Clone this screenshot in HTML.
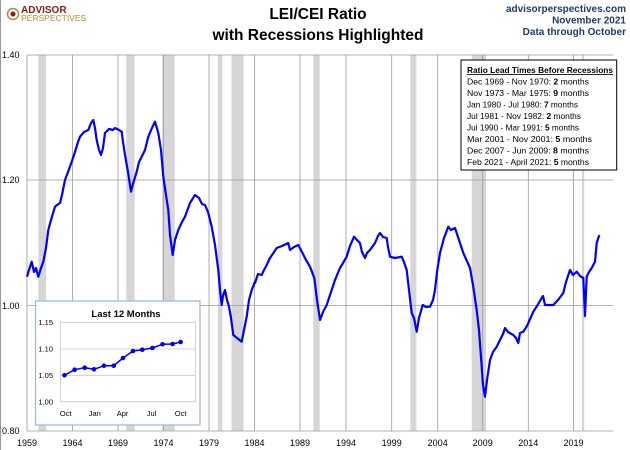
<!DOCTYPE html>
<html><head><meta charset="utf-8"><style>
html,body{margin:0;padding:0;background:#fff}
svg{display:block;font-family:"Liberation Sans",sans-serif}
</style></head><body>
<svg width="630" height="450" viewBox="0 0 630 450" xmlns="http://www.w3.org/2000/svg">
<rect x="0" y="0" width="630" height="450" fill="#fff"/>
<line x1="0.5" y1="0" x2="0.5" y2="450" stroke="#999"/>
<circle cx="13" cy="14" r="5.5" fill="none" stroke="#b5893f" stroke-width="1.5"/>
<circle cx="13" cy="14" r="2.5" fill="#8b1a1a"/>
<text x="21" y="13" font-size="10" font-weight="bold" fill="#8b1a1a">ADVISOR</text>
<text x="21" y="21" font-size="8.5" fill="#b5893f">PERSPECTIVES</text>
<text x="318" y="19" font-size="15.5" font-weight="bold" text-anchor="middle" fill="#000">LEI/CEI Ratio</text>
<text x="318" y="40" font-size="15.5" font-weight="bold" text-anchor="middle" fill="#000">with Recessions Highlighted</text>
<g font-size="10" font-weight="bold" fill="#1f3a6e" text-anchor="end">
<text x="626" y="12">advisorperspectives.com</text>
<text x="626" y="23.5">November 2021</text>
<text x="626" y="35">Data through October</text>
</g>
<g fill="#d6d6d6">
<rect x="38.4" y="55" width="7.7" height="376"/>
<rect x="126.3" y="55" width="8.3" height="376"/>
<rect x="162.2" y="55" width="12.5" height="376"/>
<rect x="217.9" y="55" width="4.5" height="376"/>
<rect x="231.5" y="55" width="12.1" height="376"/>
<rect x="313.3" y="55" width="6.4" height="376"/>
<rect x="410.3" y="55" width="6.1" height="376"/>
<rect x="471.7" y="55" width="14.3" height="376"/>
<rect x="582" y="55" width="2.2" height="376"/>
</g>
<g stroke="#9a9a9a" stroke-width="0.8">
<line x1="27" y1="55" x2="613" y2="55"/>
<line x1="27" y1="180" x2="613" y2="180"/>
<line x1="27" y1="305.5" x2="613" y2="305.5"/>
<line x1="27" y1="431" x2="613" y2="431"/>
<line x1="27" y1="55" x2="27" y2="431"/>
<line x1="72.5" y1="55" x2="72.5" y2="431"/>
<line x1="118" y1="55" x2="118" y2="431"/>
<line x1="163.5" y1="55" x2="163.5" y2="431"/>
<line x1="209" y1="55" x2="209" y2="431"/>
<line x1="254.5" y1="55" x2="254.5" y2="431"/>
<line x1="300" y1="55" x2="300" y2="431"/>
<line x1="346" y1="55" x2="346" y2="431"/>
<line x1="391.7" y1="55" x2="391.7" y2="431"/>
<line x1="437.7" y1="55" x2="437.7" y2="431"/>
<line x1="482.7" y1="55" x2="482.7" y2="431"/>
<line x1="528.3" y1="55" x2="528.3" y2="431"/>
<line x1="573.5" y1="55" x2="573.5" y2="431"/>
</g>
<g font-size="9" fill="#000">
<text x="2" y="58">1.40</text>
<text x="2" y="183">1.20</text>
<text x="2" y="309">1.00</text>
<text x="2" y="434">0.80</text>
</g>
<g font-size="9" fill="#000" text-anchor="middle">
<text x="27" y="446">1959</text><text x="72.5" y="446">1964</text><text x="118" y="446">1969</text>
<text x="163.5" y="446">1974</text><text x="209" y="446">1979</text><text x="254.5" y="446">1984</text>
<text x="300" y="446">1989</text><text x="346" y="446">1994</text><text x="391.7" y="446">1999</text>
<text x="437.7" y="446">2004</text><text x="482.7" y="446">2009</text><text x="528.3" y="446">2014</text>
<text x="573.5" y="446">2019</text>
</g>
<polyline fill="none" stroke="#0000ff" stroke-width="2.2" stroke-linejoin="round" points="
27,276.7 29,270 31.7,261.7 34,272 36,268 38.3,276.7 41,268 43.3,261.7 46,248 48.3,230 51,220 55,206.7 57,205 60,203 62,195 65,180 68,172 71.7,161.7 75,152 78,142 80,136.7 84,132 88.3,130 91,123 93.3,120 95,128 96.7,140 99,150 101,155 103,148 105,133 109,129 113,130 115,128 119,130 121.7,131.7 123,142 125,155 128,172 131,191.7 133,184 136.7,171.7 139,162 141.7,156.7 145,150 148.3,136.7 152,128 155,121.7 158.3,133 161,150 163.3,176.7 166,195 168.3,210 170,235 172.7,255 175,240 178.3,230 182,222 185,216.7 190,203 195,195 199,198 202,204 205,205 208,212 211.7,226.7 215,245 218.3,270 220,290 221.7,305 223,296 225,290 227,300 229,306.7 231,318 233.3,335 237,338 241.7,341.7 244,330 246.7,316.7 249,300 251.7,290 255,281.7 255,283 258,274 261.7,275 264,270 266.7,265 270,258 276.7,248 282,246 288.3,243 290,250 294,247 298.3,245 302,252 306,260 310,266.7 314.3,278 317,300 320,320 323,312 326.7,305 329,298 331.7,290 335,280 340,268 343,263 346.7,256.7 350,246 354,236.7 357,240 360,243 362,252 365,258 367,253 370,250 375,243 378,236 380,233 383,237 386.7,238 388,247 390,256.7 395,258 401.7,256.7 404,262 406.7,270 409,290 411.7,313 414,318 416.7,331.7 419,318 422.7,305 426,307 430,306.7 433,300 435,290 437,272 440,253 444,238 448.3,226.7 451,230 455,228 459,240 463.3,253 466,259 470,268 473,285 476.7,310 479,330 481.7,366.7 483,385 485,396.7 487,380 490,360 493,352 496.7,346.7 500,340 503,334 505,328 508,332 513.3,335 516,338 518.3,343 520,333 523.3,331.7 527,326 533.3,311.7 537,306 541.7,298 543,296 545,305 549,305 553.3,305 558,300 563.3,293 566,282 570,270 573,275 576.7,271.7 580,276 583.3,278 585,316 586.7,276.7 589,272 591.7,268 595,261.7 596.7,243 599.3,235"/>
<rect x="35.5" y="301" width="164.5" height="124" fill="#fff" stroke="#9fb6d6" stroke-width="1.2"/>
<text x="126" y="317" font-size="9.5" font-weight="bold" text-anchor="middle">Last 12 Months</text>
<g stroke="#c8c8c8" stroke-width="0.8">
<line x1="60.5" y1="322.3" x2="195.5" y2="322.3"/>
<line x1="60.5" y1="349" x2="195.5" y2="349"/>
<line x1="60.5" y1="375.3" x2="195.5" y2="375.3"/>
<line x1="60.5" y1="401.7" x2="195.5" y2="401.7"/>
<line x1="60.5" y1="322.3" x2="60.5" y2="401.7"/>
<line x1="195.5" y1="322.3" x2="195.5" y2="401.7"/>
</g>
<g font-size="7.5" text-anchor="end">
<text x="53" y="325">1.15</text><text x="53" y="351.5">1.10</text><text x="53" y="378">1.05</text><text x="53" y="404.5">1.00</text>
</g>
<g font-size="7.5" text-anchor="middle">
<text x="65.7" y="416">Oct</text><text x="94.8" y="416">Jan</text><text x="122.6" y="416">Apr</text><text x="151.6" y="416">Jul</text><text x="180.6" y="416">Oct</text>
</g>
<g fill="#0000ff">
<polyline fill="none" stroke="#0000ff" stroke-width="1.5" points="64.5,375.3 74.6,369.7 84.7,367.7 94,369.3 104,365.7 113.7,365.7 123,358 133,351 142.3,349.7 152.4,348 162.5,344.3 172.6,344 180.6,342"/>
<circle cx="64.5" cy="375.3" r="2.3"/><circle cx="74.6" cy="369.7" r="2.3"/><circle cx="84.7" cy="367.7" r="2.3"/>
<circle cx="94" cy="369.3" r="2.3"/><circle cx="104" cy="365.7" r="2.3"/><circle cx="113.7" cy="365.7" r="2.3"/>
<circle cx="123" cy="358" r="2.3"/><circle cx="133" cy="351" r="2.3"/><circle cx="142.3" cy="349.7" r="2.3"/>
<circle cx="152.4" cy="348" r="2.3"/><circle cx="162.5" cy="344.3" r="2.3"/><circle cx="172.6" cy="344" r="2.3"/>
<circle cx="180.6" cy="342" r="2.3"/>
</g>
<rect x="461" y="60" width="155.7" height="110" fill="#fff" stroke="#000" stroke-width="1"/>
<text x="467" y="73" font-size="8.3" font-weight="bold" text-decoration="underline" textLength="146" lengthAdjust="spacingAndGlyphs">Ratio Lead Times Before Recessions</text>
<g font-size="8.3">
<text x="467" y="84.5" textLength="122" lengthAdjust="spacingAndGlyphs">Dec 1969 - Nov 1970: <tspan font-weight="bold">2</tspan> months</text>
<text x="467" y="96" textLength="122" lengthAdjust="spacingAndGlyphs">Nov 1973 - Mar 1975: <tspan font-weight="bold">9</tspan> months</text>
<text x="467" y="107.5" textLength="111" lengthAdjust="spacingAndGlyphs">Jan 1980 - Jul 1980: <tspan font-weight="bold">7</tspan> months</text>
<text x="467" y="119" textLength="114" lengthAdjust="spacingAndGlyphs">Jul 1981 - Nov 1982: <tspan font-weight="bold">2</tspan> months</text>
<text x="467" y="130.5" textLength="112" lengthAdjust="spacingAndGlyphs">Jul 1990 - Mar 1991: <tspan font-weight="bold">5</tspan> months</text>
<text x="467" y="142" textLength="125" lengthAdjust="spacingAndGlyphs">Mar 2001 - Nov 2001: <tspan font-weight="bold">5</tspan> months</text>
<text x="467" y="153.5" textLength="122" lengthAdjust="spacingAndGlyphs">Dec 2007 - Jun 2009: <tspan font-weight="bold">8</tspan> months</text>
<text x="467" y="165" textLength="122" lengthAdjust="spacingAndGlyphs">Feb 2021 - April 2021: <tspan font-weight="bold">5</tspan> months</text>
</g>
</svg>
</body></html>
